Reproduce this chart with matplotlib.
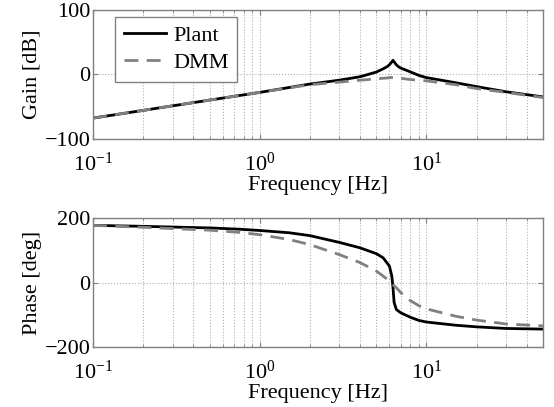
import matplotlib.pyplot as plt

plt.rcParams['font.family'] = ['Liberation Serif', 'DejaVu Serif']
plt.rcParams['mathtext.fontset'] = 'stix'

# frequency points [Hz]
freq_gain = [0.1, 0.2, 0.5, 1.0, 2.0, 3.0, 4.0, 5.0, 5.5, 5.8, 6.0, 6.2, 6.3, 6.45, 6.6, 6.8,
             7.0, 8.0, 9.0, 10.0, 15.0, 20.0, 30.0, 50.0]
plant_gain = [-68, -56, -40, -28, -15, -9, -3.6, 3.6, 8.7, 12, 15, 19.5, 22, 18.5, 15, 12,
              10, 4, -1.5, -5, -13, -19, -27, -35]
dmm_gain = [-68, -56, -40, -28, -16, -12, -9, -7, -6, -5.5, -5, -4.8, -4.8, -4.9, -5.2, -5.6,
            -6, -8, -9, -10, -16, -22, -28, -36]

freq_phase = [0.1, 0.2, 0.5, 0.76, 1.0, 1.5, 2.0, 3.0, 4.0, 5.0, 5.5, 6.0, 6.2, 6.3, 6.4, 6.6,
              7.0, 8.0, 9.0, 10.0, 15.0, 20.0, 30.0, 50.0]
plant_phase = [178, 175, 170, 166, 162, 155, 146, 125, 108, 90, 77, 51, 20, -15, -62, -84,
               -94, -108, -118, -123, -133, -138, -143, -145]
dmm_phase = [178, 172, 163, 156, 149, 134, 118, 87, 62, 36, 20, 5, -2, -6, -10, -16,
             -31, -56, -72, -82, -105, -117, -129, -135]

fig, (ax1, ax2) = plt.subplots(2, 1, figsize=(5.54, 4.07), dpi=100)
fig.subplots_adjust(left=0.168, right=0.98, top=0.975, bottom=0.148, hspace=0.62)

ax1.semilogx(freq_gain, plant_gain, color='black', lw=2.0, label='Plant')
ax1.semilogx(freq_gain, dmm_gain, color='#808080', lw=2.0, ls=(0, (5, 3)), label='DMM')
ax2.semilogx(freq_phase, plant_phase, color='black', lw=2.0)
ax2.semilogx(freq_phase, dmm_phase, color='#808080', lw=2.0, ls=(0, (5, 3)))

ax1.set_ylim(-100, 100)
ax1.set_yticks([-100, 0, 100])
ax1.set_ylabel('Gain [dB]', fontsize=16, labelpad=2)
ax2.set_ylim(-200, 200)
ax2.set_yticks([-200, 0, 200])
ax2.set_ylabel('Phase [deg]', fontsize=16, labelpad=2)

for ax in (ax1, ax2):
    ax.set_xlim(0.1, 50)
    ax.set_xlabel('Frequency [Hz]', fontsize=16, labelpad=0)
    ax.grid(True, which='both', axis='x', color='#b0b0b0', ls=':', lw=0.8)
    ax.grid(True, which='major', axis='y', color='#b0b0b0', ls=':', lw=0.8)
    ax.tick_params(which='both', direction='in', labelsize=16, top=True, right=True, color='#808080')
    ax.tick_params(axis='x', pad=10)
    ax.tick_params(axis='y', pad=2)
    for s in ax.spines.values():
        s.set_color('#808080')
        s.set_linewidth(1.0)

leg = ax1.legend(loc='upper left', fontsize=16, fancybox=False, framealpha=1,
                 edgecolor='#808080', handlelength=1.9, borderpad=0.4, labelspacing=0.3,
                 handletextpad=0.3, borderaxespad=0, bbox_to_anchor=(0.049, 0.95))

fig.savefig('out.png')
